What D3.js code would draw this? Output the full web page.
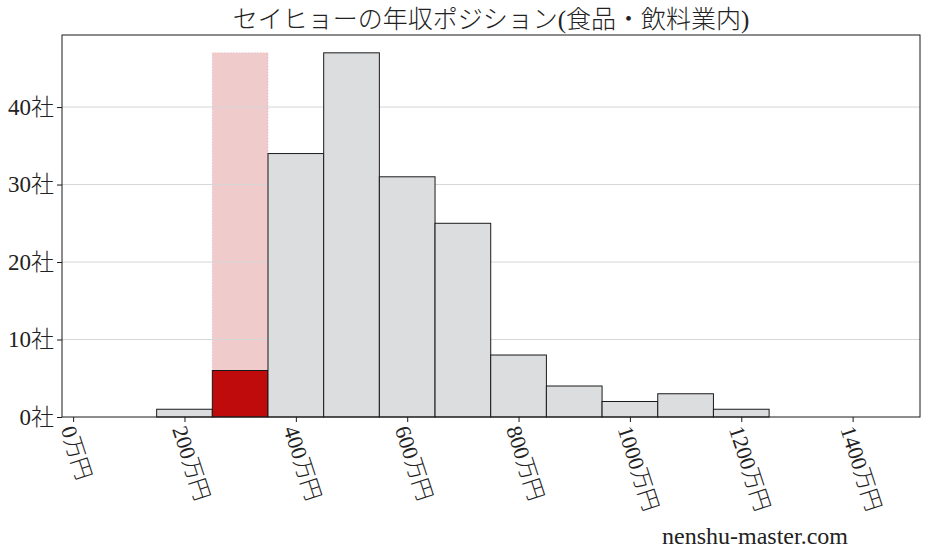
<!DOCTYPE html>
<html>
<head>
<meta charset="utf-8">
<script src="https://cdn.jsdelivr.net/npm/d3@7"></script>
<style>
  body { margin: 0; background: #fff; }
  text { font-family: "Liberation Serif", "DejaVu Serif", "Noto Sans CJK JP", serif; fill: #222; }
</style>
</head>
<body>
<div id="chart"></div>
<script>
// bin edges (万円) and company counts per bin
const binStart = [150, 250, 350, 450, 550, 650, 750, 850, 950, 1050, 1150];
const binEnd   = [250, 350, 450, 550, 650, 750, 850, 950, 1050, 1150, 1250];
const counts   = [1, 6, 34, 47, 31, 25, 8, 4, 2, 3, 1];
const highlightBin = 1; // セイヒョー's position
const xTicks = [0, 200, 400, 600, 800, 1000, 1200, 1400];
const yTicks = [0, 10, 20, 30, 40];

const width = 927, height = 557;
const margin = { top: 35, right: 7, bottom: 140, left: 62 };

const svg = d3.select("#chart").append("svg")
  .attr("width", width)
  .attr("height", height);

const x = d3.scaleLinear().domain([-20, 1521]).range([margin.left, width - margin.right]);
const y = d3.scaleLinear().domain([0, 49.3]).range([height - margin.bottom, margin.top]);

// highlight band behind everything
const maxCount = d3.max(counts);
svg.append("rect")
  .attr("x", x(binStart[highlightBin]))
  .attr("y", y(maxCount))
  .attr("width", x(binEnd[highlightBin]) - x(binStart[highlightBin]))
  .attr("height", y(0) - y(maxCount))
  .attr("fill", "#f0cbcc")
  .attr("stroke", "#d9a0a0")
  .attr("stroke-width", 0.6)
  .attr("stroke-dasharray", "1,2");

// horizontal grid
svg.append("g")
  .selectAll("line")
  .data(yTicks.slice(1))
  .enter().append("line")
  .attr("x1", margin.left)
  .attr("x2", width - margin.right)
  .attr("y1", d => y(d))
  .attr("y2", d => y(d))
  .attr("stroke", "#d6d6d6")
  .attr("stroke-width", 1);

// bars
svg.append("g")
  .selectAll("rect")
  .data(counts)
  .enter().append("rect")
  .attr("x", (d, i) => x(binStart[i]))
  .attr("y", d => y(d))
  .attr("width", (d, i) => x(binEnd[i]) - x(binStart[i]))
  .attr("height", d => y(0) - y(d))
  .attr("fill", (d, i) => i === highlightBin ? "#c00b0d" : "#dcdddf")
  .attr("stroke", "#1a1a1a")
  .attr("stroke-width", 1);

// frame
svg.append("rect")
  .attr("x", margin.left)
  .attr("y", margin.top)
  .attr("width", width - margin.right - margin.left)
  .attr("height", height - margin.bottom - margin.top)
  .attr("fill", "none")
  .attr("stroke", "#1a1a1a")
  .attr("stroke-width", 1);

// y axis
const yAxis = svg.append("g")
  .attr("transform", `translate(${margin.left},0)`)
  .call(d3.axisLeft(y).tickValues(yTicks).tickSize(5).tickPadding(3).tickFormat(d => d + "社"));
yAxis.select(".domain").remove();
yAxis.selectAll("line").attr("stroke", "#1a1a1a");
yAxis.selectAll("text").attr("font-size", 23).attr("font-weight", 300).attr("fill", "#222");

// x axis
const xAxis = svg.append("g")
  .attr("transform", `translate(0,${height - margin.bottom})`)
  .call(d3.axisBottom(x).tickValues(xTicks).tickSize(5).tickFormat(d => d + "万円"));
xAxis.select(".domain").remove();
xAxis.selectAll("line").attr("stroke", "#1a1a1a");
xAxis.selectAll("text")
  .attr("font-size", 22)
  .attr("font-weight", 300)
  .attr("fill", "#222")
  .attr("text-anchor", "start")
  .attr("dy", "0")
  .attr("y", 0)
  .attr("transform", "translate(-13,12) rotate(72)");

// title
svg.append("text")
  .attr("x", (margin.left + width - margin.right) / 2)
  .attr("y", 28)
  .attr("text-anchor", "middle")
  .attr("font-size", 25)
  .attr("font-weight", 300)
  .text("セイヒョーの年収ポジション(食品・飲料業内)");

// watermark
svg.append("text")
  .attr("x", 848)
  .attr("y", 544)
  .attr("text-anchor", "end")
  .attr("font-size", 24)
  .text("nenshu-master.com");
</script>
</body>
</html>
